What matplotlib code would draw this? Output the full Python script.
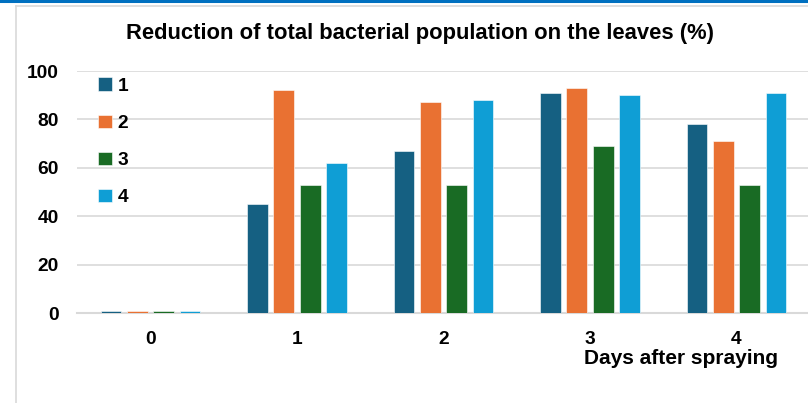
import numpy as np
import matplotlib.pyplot as plt
from matplotlib.lines import Line2D

# === データ ===
days = ["0", "1", "2", "3", "4"]
series_names = ["1", "2", "3", "4"]
s1 = [1, 45, 67, 91, 78]
s2 = [1, 92, 87, 93, 71]
s3 = [1, 53, 53, 69, 53]
s4 = [1, 62, 88, 90, 91]
colors = ["#156082", "#E97132", "#196B24", "#0F9ED5"]

plt.rcParams["font.family"] = ["Liberation Sans", "DejaVu Sans"]
plt.rcParams["font.weight"] = "bold"

fig = plt.figure(figsize=(8.08, 4.03), dpi=100)
ax = fig.add_axes([77.25 / 808, 90 / 403, 732.5 / 808, 242 / 403])

x = np.arange(len(days))
pitch = 0.18
width = 0.142
for i, (vals, c) in enumerate(zip([s1, s2, s3, s4], colors)):
    ax.bar(x + (i - 1.5) * pitch, vals, width, color=c, edgecolor="white",
           linewidth=0.4, label=series_names[i], zorder=3)

ax.set_xlim(-0.5, 4.5)
ax.set_ylim(0, 100)
ax.set_yticks(range(0, 101, 20))
ax.set_xticks(x)
ax.set_xticklabels(days)
ax.grid(axis="y", color="#d9d9d9", linewidth=1.2, zorder=0)
for s in ["top", "right", "left"]:
    ax.spines[s].set_visible(False)
ax.spines["bottom"].set_color("#d9d9d9")
ax.spines["bottom"].set_linewidth(1.5)
ax.spines["bottom"].set_zorder(1)
ax.tick_params(axis="both", length=0, labelsize=13.8)
ax.tick_params(axis="y", pad=13.5)
ax.tick_params(axis="x", pad=13)

leg = ax.legend(loc="upper left", bbox_to_anchor=(0.005, 1.045), frameon=False,
                fontsize=13.8, handlelength=0.7, handleheight=0.7,
                handletextpad=0.3, labelspacing=1.03)

fig.text(420 / 808, 1 - 33 / 403, "Reduction of total bacterial population on the leaves (%)",
         ha="center", va="center", fontsize=15.8, fontweight="bold")
fig.text(681 / 808, 1 - 358 / 403, "Days after spraying", ha="center", va="center",
         fontsize=15, fontweight="bold")

# 枠線
fig.add_artist(Line2D([0, 1], [1 - 1 / 403, 1 - 1 / 403], color="#0070C0", linewidth=2.2))
fig.add_artist(Line2D([15.5 / 808, 1], [1 - 5.5 / 403, 1 - 5.5 / 403], color="#d9d9d9", linewidth=1.2))
fig.add_artist(Line2D([15.5 / 808, 15.5 / 808], [0, 1 - 5.5 / 403], color="#d9d9d9", linewidth=1.2))

fig.savefig("out.png", dpi=100)
